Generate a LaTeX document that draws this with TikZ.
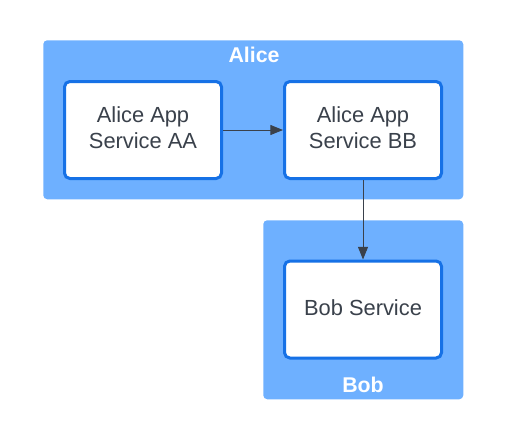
\documentclass[tikz,border=0pt]{standalone}
\usepackage{fontspec}
\setmainfont{Liberation Sans}
\usetikzlibrary{arrows.meta}
\definecolor{groupblue}{RGB}{110,176,255}
\definecolor{edgeblue}{RGB}{22,113,230}
\definecolor{inkgray}{RGB}{58,65,75}
\begin{document}
\begin{tikzpicture}[x=0.75pt,y=-0.75pt,
    group/.style={fill=groupblue, rounded corners=3pt, inner sep=0pt, anchor=north west},
    grouplabel/.style={text=white, font=\fontsize{16}{19}\selectfont\bfseries},
    service/.style={draw=edgeblue, line width=2.25pt, fill=white, rounded corners=4pt,
        minimum width=117.75pt, minimum height=72.75pt, text=inkgray, align=center,
        text depth=3pt, font=\fontsize{16.4}{19.5}\selectfont},
    link/.style={draw=inkgray, line width=0.75pt, -{Triangle[length=9.5pt,width=7.5pt]}}]
    \useasboundingbox (0,0) rectangle (507,440);
    % containers
    \node [group, minimum width=315pt, minimum height=119.25pt] (alice) at (43,40) {};
    \node [grouplabel] (alicelabel) at (254,55) {Alice};
    \node [group, minimum width=150pt, minimum height=134.25pt] (bob) at (263,220) {};
    \node [grouplabel] (boblabel) at (363,385) {Bob};
    % services
    \node [service] (aa) at (143,130) {Alice App\\Service AA};
    \node [service] (bb) at (363,130) {Alice App\\Service BB};
    \node [service] (bobsvc) at (363,309.5) {Bob Service};
    % calls
    \draw [link] (aa) -- (bb);
    \draw [link] (bb) -- (bobsvc);
\end{tikzpicture}
\end{document}
